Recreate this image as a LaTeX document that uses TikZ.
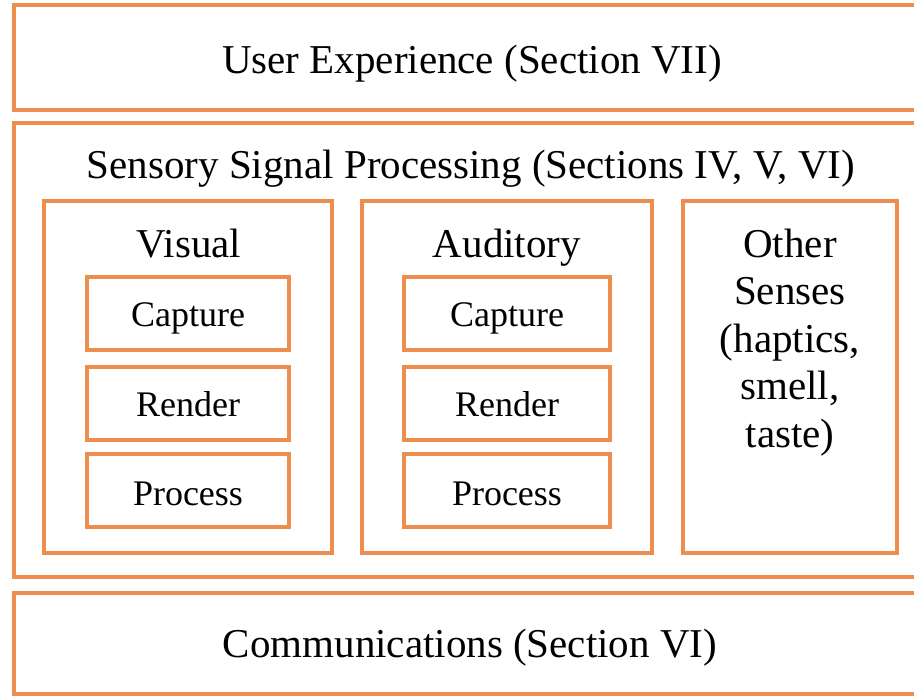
\documentclass[tikz,border=0pt]{standalone}
\usepackage{fontspec}
\setmainfont{Liberation Serif}
\definecolor{boxorange}{RGB}{237,142,78}
\begin{document}
\begin{tikzpicture}[x=1pt,y=-1pt,
  frame/.style={draw=boxorange, line width=4pt, rectangle, inner sep=0pt},
  title/.style={font=\fontsize{41}{47.5}\selectfont, inner sep=0pt, anchor=base},
  label/.style={font=\fontsize{36}{43}\selectfont, inner sep=0pt, anchor=base}]
\useasboundingbox (0,0) rectangle (914,696);
\clip (0,0) rectangle (914,696);
\fill[white] (0,0) rectangle (914,696);

% outer layers
\node[frame, minimum width=926pt, minimum height=105pt] (ux) at (477,57.5) {};
\node[frame, minimum width=926pt, minimum height=454pt] (ssp) at (477,350) {};
\node[frame, minimum width=926pt, minimum height=101pt] (comm) at (477,643.5) {};

\node[title] (uxt) at (472,73) {User Experience (Section VII)};
\node[title] (sspt) at (471,178) {Sensory Signal Processing (Sections IV, V, VI)};
\node[title] (commt) at (470,657) {Communications (Section VI)};

% sense groups
\node[frame, minimum width=288pt, minimum height=352pt] (vis) at (188,377) {};
\node[frame, minimum width=290pt, minimum height=352pt] (aud) at (507,377) {};
\node[frame, minimum width=214pt, minimum height=352pt] (oth) at (790,377) {};

\node[title] (vist) at (189,257) {Visual};
\node[title] (audt) at (507,257) {Auditory};
% a multi-line node sits on the baseline of its last line
\node[title, align=center] (otht) at (790,447)
  {Other\\Senses\\(haptics,\\smell,\\taste)};

% visual pipeline
\node[frame, minimum width=202pt, minimum height=73pt] (vcap) at (188,313.5) {};
\node[frame, minimum width=202pt, minimum height=73pt] (vren) at (188,403.5) {};
\node[frame, minimum width=202pt, minimum height=73pt] (vpro) at (188,490) {};
\node[label] (vcapt) at (188,326) {Capture};
\node[label] (vrent) at (188,416) {Render};
\node[label] (vprot) at (188,505) {Process};

% auditory pipeline
\node[frame, minimum width=206pt, minimum height=73pt] (acap) at (507,313.5) {};
\node[frame, minimum width=206pt, minimum height=73pt] (aren) at (507,403.5) {};
\node[frame, minimum width=206pt, minimum height=73pt] (apro) at (507,490) {};
\node[label] (acapt) at (507,326) {Capture};
\node[label] (arent) at (507,416) {Render};
\node[label] (aprot) at (507,505) {Process};
\end{tikzpicture}
\end{document}
